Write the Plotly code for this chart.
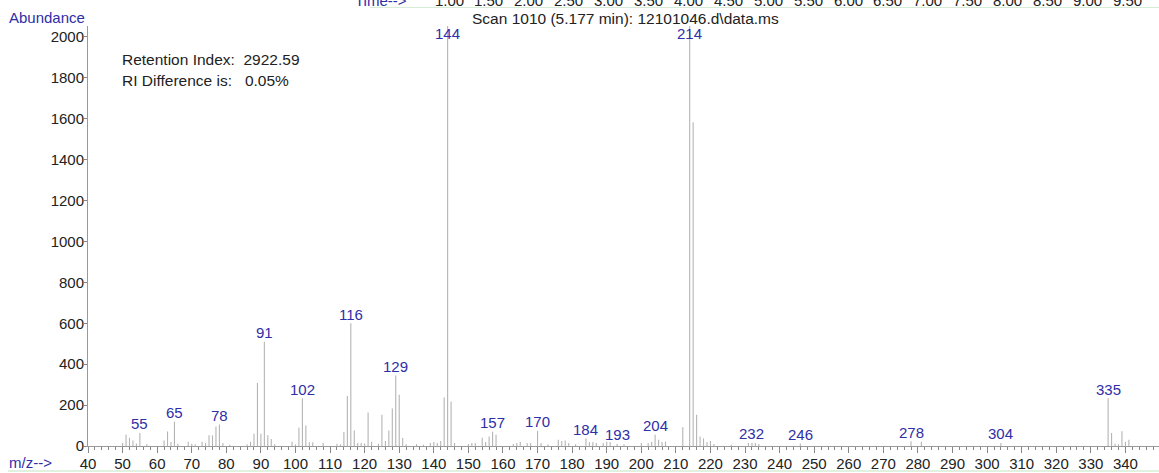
import plotly.graph_objects as go

# ---- data ----
mz = [50, 51, 52, 53, 54, 55, 57, 62, 63, 64, 65, 66, 69, 70, 71, 73, 74, 75, 76, 77, 78, 79,
      81, 86, 87, 88, 89, 90, 91, 92, 93, 94, 99, 100, 101, 102, 103, 104, 105, 108, 112, 113,
      114, 115, 116, 117, 118, 119, 120, 121, 122, 124, 125, 126, 127, 128, 129, 130, 131, 132,
      135, 137, 139, 140, 141, 142, 143, 144, 145, 146, 150, 151, 152, 154, 155, 156, 157, 158,
      163, 164, 165, 167, 168, 170, 171, 173, 176, 177, 178, 179, 181, 184, 185, 186, 187, 189,
      190, 191, 193, 195, 200, 202, 203, 204, 205, 206, 207, 212, 214, 215, 216, 217, 218, 219,
      220, 221, 226, 231, 232, 233, 234, 246, 278, 281, 304, 335, 336, 337, 338, 339, 340, 341]
abundance = [15, 55, 40, 27, 12, 64, 8, 27, 71, 19, 119, 11, 21, 11, 8, 21, 15, 52, 52, 95, 105, 15,
             6, 8, 21, 60, 308, 60, 510, 52, 34, 8, 21, 8, 89, 233, 100, 18, 18, 15, 11, 8,
             68, 245, 600, 76, 15, 15, 12, 164, 21, 11, 153, 24, 76, 183, 345, 250, 39, 8,
             10, 6, 15, 19, 15, 24, 237, 2054, 217, 15, 10, 15, 15, 40, 19, 47, 70, 55,
             10, 15, 19, 15, 15, 74, 15, 8, 31, 24, 27, 15, 8, 37, 19, 19, 15, 15,
             21, 19, 10, 8, 15, 15, 19, 55, 31, 19, 21, 92, 2054, 1582, 153, 47, 37, 19,
             24, 10, 6, 15, 15, 15, 10, 12, 23, 21, 15, 233, 63, 11, 8, 72, 21, 31]
labeled_mz = [55, 65, 78, 91, 102, 116, 129, 144, 157, 170, 184, 193, 204, 214, 232, 246, 278, 304, 335]

x_ticks = list(range(40, 341, 10))
y_ticks = list(range(0, 2001, 200))
time_ticks = ["1.00", "1.50", "2.00", "2.50", "3.00", "3.50", "4.00", "4.50", "5.00",
              "5.50", "6.00", "6.50", "7.00", "7.50", "8.00", "8.50", "9.00", "9.50"]

title_text = "Scan 1010 (5.177 min): 12101046.d\\data.ms"
info_lines = ["Retention Index:  2922.59", "RI Difference is:   0.05%"]

# ---- geometry ----
W, H = 1159, 473
L, R, T, B = 88, 0, 26, 27
PW = W - L - R
PH = H - T - B
XMAX = 40 + PW / 3.458
YMAX = 2053

def px(xp):
    return (xp - L) / PW

def py(yp):
    return (H - B - yp) / PH

FONT = "Liberation Sans, Arial, sans-serif"
BLUE = "#2e2ea8"
GRAY = "#b4b4b4"
TXT = "#222222"

# stick spectrum
xs, ys = [], []
for m, a in zip(mz, abundance):
    xs += [m, m, None]
    ys += [0, a, None]

fig = go.Figure()
fig.add_trace(go.Scatter(x=xs, y=ys, mode="lines",
                         line=dict(color=GRAY, width=1.1),
                         hoverinfo="skip", showlegend=False))

ann = []
ab = dict(zip(mz, abundance))
for m in labeled_mz:
    v = ab[m]
    if v > 1990:
        ann.append(dict(x=m, y=py(33), xref="x", yref="paper", text=str(m),
                        showarrow=False, yanchor="middle", xanchor="center",
                        font=dict(family=FONT, size=15, color=BLUE)))
    else:
        ann.append(dict(x=m, y=v, xref="x", yref="y", text=str(m),
                        showarrow=False, yanchor="middle", xanchor="center", yshift=9,
                        font=dict(family=FONT, size=15, color=BLUE)))

ann.append(dict(x=px(7), y=py(17), xref="paper", yref="paper", text="Abundance",
                showarrow=False, xanchor="left", yanchor="middle",
                font=dict(family=FONT, size=15, color=BLUE)))
ann.append(dict(x=px(7), y=py(462), xref="paper", yref="paper", text="m/z-->",
                showarrow=False, xanchor="left", yanchor="middle",
                font=dict(family=FONT, size=15, color=BLUE)))
ann.append(dict(x=px(625), y=py(18), xref="paper", yref="paper", text=title_text,
                showarrow=False, xanchor="center", yanchor="middle",
                font=dict(family=FONT, size=15.5, color=TXT)))
for i, line in enumerate(info_lines):
    ann.append(dict(x=px(120), y=py(59 + 21 * i), xref="paper", yref="paper", text=line,
                    showarrow=False, xanchor="left", yanchor="middle",
                    font=dict(family=FONT, size=15.5, color=TXT)))

# time axis header (cut off at top, as in the reference)
ann.append(dict(x=px(409), y=py(0), xref="paper", yref="paper", text="Time-->",
                showarrow=False, xanchor="right", yanchor="middle",
                font=dict(family=FONT, size=15, color=BLUE)))
for i, t in enumerate(time_ticks):
    ann.append(dict(x=px(449 + 39.9 * i), y=py(0), xref="paper", yref="paper", text=t,
                    showarrow=False, xanchor="center", yanchor="middle",
                    font=dict(family=FONT, size=15, color=TXT)))

shapes = [
    dict(type="line", xref="paper", yref="paper", x0=px(370), x1=px(W), y0=py(7.5), y1=py(7.5),
         line=dict(color="#d6ecd6", width=1)),
    dict(type="line", xref="paper", yref="paper", x0=px(8), x1=px(W), y0=py(471), y1=py(471),
         line=dict(color="#d6ecd6", width=1.5)),
]

fig.update_layout(
    width=W, height=H,
    margin=dict(l=L, r=R, t=T, b=B, pad=0),
    paper_bgcolor="white", plot_bgcolor="white",
    showlegend=False,
    annotations=ann, shapes=shapes,
    font=dict(family=FONT, size=15, color=TXT),
    xaxis=dict(range=[40, XMAX], tickmode="array", tickvals=x_ticks,
               ticktext=[str(v) for v in x_ticks],
               showgrid=False, zeroline=False, showline=True, linecolor="#999999", linewidth=1,
               ticks="outside", ticklen=6, tickcolor="#888888", tickwidth=1,
               ticklabelstandoff=-2,
               minor=dict(dtick=2, tick0=40, ticks="outside", ticklen=3, tickcolor="#888888",
                          showgrid=False),
               tickfont=dict(family=FONT, size=15, color=TXT)),
    yaxis=dict(range=[0, YMAX], tickmode="array", tickvals=y_ticks,
               ticktext=[str(v) for v in y_ticks],
               showgrid=False, zeroline=False, showline=True, linecolor="#999999", linewidth=1,
               ticks="outside", ticklen=3, tickcolor="#888888",
               ticklabelstandoff=-3,
               tickfont=dict(family=FONT, size=15, color=TXT)),
)

fig.write_html("out.html", config={"displayModeBar": False},
               post_script="document.body.style.margin='0';document.body.style.overflow='hidden';")
